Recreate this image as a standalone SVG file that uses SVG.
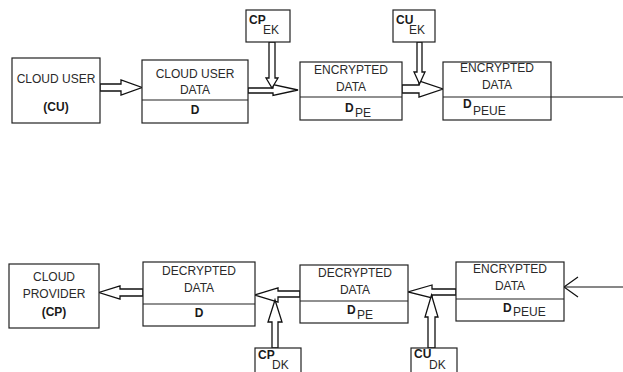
<svg xmlns="http://www.w3.org/2000/svg" width="623" height="372" viewBox="0 0 623 372">
<style>
.box{fill:#fff;stroke:#222;stroke-width:1.2}
.div{stroke:#222;stroke-width:1.2}
.arr{fill:#fff;stroke:#111;stroke-width:1.3;stroke-linejoin:miter}
.ln{fill:none;stroke:#111;stroke-width:1.2}
text{font-family:"Liberation Sans","Open Sans",sans-serif;font-size:12px;fill:#2a2a2a}
.c{text-anchor:middle}
.b{font-weight:bold;fill:#1a1a1a}
</style>
<rect width="623" height="372" fill="#fff"/>
<g id="connectors">
<polygon class="arr" points="100,84 121,84 121,80 142,87.5 121,95 121,91 100,91"/>
<polygon class="arr" points="248,88 273,88 273,84.5 298,90 273,95.5 273,93 248,93"/>
<polygon class="arr" points="269,42 275,42 275,78 278,78 272,88 266,78 269,78"/>
<polygon class="arr" points="402,85 419,85 419,81 443,89 419,97 419,93 402,93"/>
<polygon class="arr" points="417,42 422,42 422,72 425,72 419.5,84 414,72 417,72"/>
<line class="ln" x1="551" y1="97" x2="623" y2="97"/>
<polygon class="arr" points="143,289 120,289 120,286 99,292.5 120,299 120,296 143,296"/>
<polygon class="arr" points="300,291 278,291 278,288 255,295 278,302 278,297 300,297"/>
<polygon class="arr" points="272,348 278,348 278,322 282,322 275,300 268,322 272,322"/>
<polygon class="arr" points="456,289 432,289 432,285 408,292 432,298 432,295 456,295"/>
<polygon class="arr" points="428,348 435,348 435,317 438,317 431.5,295 425,317 428,317"/>
<line class="ln" x1="623" y1="287" x2="564" y2="287"/>
<polyline class="ln" points="578,277 564,287 578,297"/>
</g>
<g id="cloud-user">
<rect class="box" x="12" y="58" width="88" height="65"/>
<text class="c" x="56" y="83">CLOUD USER</text>
<text class="c b" x="56" y="111">(CU)</text>
</g>
<g id="cloud-user-data">
<rect class="box" x="142" y="60" width="106" height="63"/>
<line class="div" x1="142" y1="100" x2="248" y2="100"/>
<text class="c" x="195" y="78">CLOUD USER</text>
<text class="c" x="195" y="94">DATA</text>
<text class="c b" x="195" y="114">D</text>
</g>
<g id="cp-ek">
<rect class="box" x="246" y="10" width="44" height="32"/>
<text x="249" y="24"><tspan class="b">CP</tspan><tspan x="263" y="34">EK</tspan></text>
</g>
<g id="encrypted-pe">
<rect class="box" x="300" y="62" width="102" height="58"/>
<line class="div" x1="300" y1="97" x2="402" y2="97"/>
<text class="c" x="351" y="74">ENCRYPTED</text>
<text class="c" x="351" y="91">DATA</text>
<text x="345" y="112"><tspan class="b">D</tspan><tspan x="355" y="117">PE</tspan></text>
</g>
<g id="cu-ek">
<rect class="box" x="393" y="10" width="42" height="32"/>
<text x="396" y="24"><tspan class="b">CU</tspan><tspan x="409" y="34">EK</tspan></text>
</g>
<g id="encrypted-peue">
<rect class="box" x="443" y="62" width="108" height="58"/>
<line class="div" x1="443" y1="97" x2="551" y2="97"/>
<text class="c" x="497" y="72">ENCRYPTED</text>
<text class="c" x="497" y="89">DATA</text>
<text x="463" y="108"><tspan class="b">D</tspan><tspan x="473" y="115">PEUE</tspan></text>
</g>
<g id="cloud-provider">
<rect class="box" x="9" y="264" width="90" height="64"/>
<text class="c" x="54" y="281">CLOUD</text>
<text class="c" x="54" y="298">PROVIDER</text>
<text class="c b" x="54" y="316">(CP)</text>
</g>
<g id="decrypted-d">
<rect class="box" x="143" y="262" width="112" height="64"/>
<line class="div" x1="143" y1="304" x2="255" y2="304"/>
<text class="c" x="199" y="275">DECRYPTED</text>
<text class="c" x="199" y="292">DATA</text>
<text class="c b" x="199" y="317">D</text>
</g>
<g id="cp-dk">
<rect class="box" x="255" y="348" width="46" height="30"/>
<text x="258" y="359"><tspan class="b">CP</tspan><tspan x="272" y="369">DK</tspan></text>
</g>
<g id="decrypted-pe">
<rect class="box" x="300" y="265" width="108" height="58"/>
<line class="div" x1="300" y1="301" x2="408" y2="301"/>
<text class="c" x="355" y="277">DECRYPTED</text>
<text class="c" x="355" y="294">DATA</text>
<text x="347" y="314"><tspan class="b">D</tspan><tspan x="357" y="319">PE</tspan></text>
</g>
<g id="cu-dk">
<rect class="box" x="411" y="348" width="46" height="30"/>
<text x="414" y="358"><tspan class="b">CU</tspan><tspan x="429" y="369">DK</tspan></text>
</g>
<g id="encrypted-peue-2">
<rect class="box" x="456" y="262" width="108" height="59"/>
<line class="div" x1="456" y1="299" x2="564" y2="299"/>
<text class="c" x="510" y="273">ENCRYPTED</text>
<text class="c" x="510" y="290">DATA</text>
<text x="503" y="312"><tspan class="b">D</tspan><tspan x="513" y="316">PEUE</tspan></text>
</g>
</svg>
